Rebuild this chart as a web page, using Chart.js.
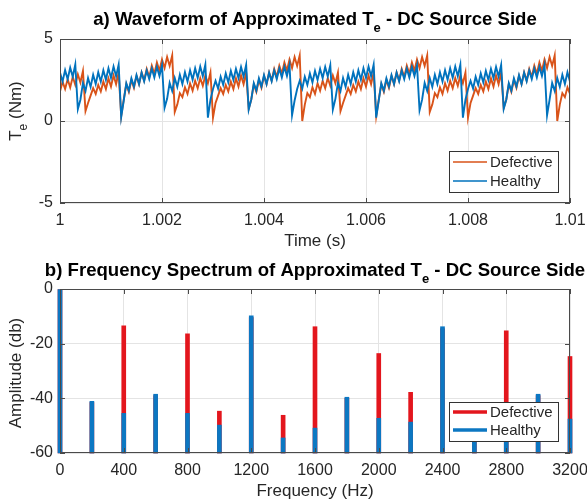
<!DOCTYPE html>
<html>
<head>
<meta charset="utf-8">
<script src="https://cdn.jsdelivr.net/npm/chart.js@4"></script>
<style>
    html, body { margin: 0; padding: 0; background: #fff; }
    canvas { display: block; }
</style>
</head>
<body>
<canvas id="waveChart" width="587" height="252"></canvas>
<canvas id="spectrumChart" width="587" height="252"></canvas>
<script>
// a) approximated Te, one sample every 0.05 ms from t = 1 s (read off the plot)
const sampleStart = 1
const sampleStep = 0.00005

const healthyTorque = [
    2.95, 2.4, 3.1, 2.55, 3.25, 2.7, 3.45,
    0.73, 1.3, 2.32, 1.83, 2.62, 2.08, 2.82, 2.26, 2.97, 2.40, 3.10, 2.52, 3.22, 2.63, 3.32, 2.73, 3.44,
    0.25, 1.25, 2.3, 1.85, 2.6, 2.1, 2.8, 2.25, 2.95, 2.42, 3.08, 2.55, 3.2, 2.65, 3.3, 2.75, 3.4,
    0.8, 1.35, 2.32, 1.83, 2.62, 2.08, 2.82, 2.26, 2.97, 2.40, 3.10, 2.52, 3.22, 2.63, 3.32, 2.73, 3.44,
    0.2, 1.3, 1.95, 2.45, 1.98, 2.7, 2.2, 2.9, 2.35, 3.05, 2.5, 3.18, 2.62, 3.3, 2.72, 3.42,
    0.7, 1.3, 2.3, 1.85, 2.6, 2.1, 2.8, 2.25, 2.95, 2.42, 3.08, 2.55, 3.2, 2.65, 3.3, 2.75, 3.42,
    0.35, 1.25, 1.95, 2.45, 1.98, 2.7, 2.2, 2.9, 2.35, 3.05, 2.5, 3.18, 2.62, 3.3, 2.72, 3.4,
    0.7, 1.35, 2.32, 1.83, 2.62, 2.08, 2.82, 2.26, 2.97, 2.40, 3.10, 2.52, 3.22, 2.63, 3.32, 2.73, 3.44,
    0.2, 1.25, 2.3, 1.85, 2.6, 2.1, 2.8, 2.25, 2.95, 2.42, 3.08, 2.55, 3.2, 2.65, 3.3, 2.75, 3.4,
    0.65, 1.3, 2.32, 1.83, 2.62, 2.08, 2.82, 2.26, 2.97, 2.40, 3.10, 2.52, 3.22, 2.63, 3.32, 2.73, 3.44,
    0.2, 1.3, 1.95, 2.45, 1.98, 2.7, 2.2, 2.9, 2.35, 3.05, 2.5, 3.18, 2.62, 3.3, 2.72, 3.42,
    0.75, 1.3, 2.3, 1.85, 2.6, 2.1, 2.8, 2.25, 2.95, 2.42, 3.08, 2.55, 3.2, 2.65, 3.3, 2.75, 3.42,
    0.35, 1.3, 2.32, 1.83, 2.62, 2.08, 2.82, 2.26, 2.97, 2.40
]

const defectiveTorque = [
    1.8, 2.4, 1.95, 2.55, 2.05, 2.7, 2.2, 2.85, 2.35, 3.05,
    0.6, 1.1, 1.55, 2.0, 1.65, 2.2, 1.8, 2.4, 1.95, 2.6, 2.1, 2.78, 2.25, 2.95,
    0.3, 1.3, 2.25, 1.78, 2.5, 2.02, 2.74, 2.25, 2.96, 2.47, 3.18, 2.68, 3.38, 2.88, 3.57, 3.06, 3.75, 3.23, 3.9, 3.36, 4.0,
    0.55, 1.0, 1.7, 1.45, 2.05, 1.65, 2.3, 1.85, 2.45, 2.0, 2.62, 2.15, 2.78, 2.3, 2.95,
    0.2, 1.1, 1.55, 2.0, 1.65, 2.2, 1.8, 2.4, 1.95, 2.6, 2.1, 2.78, 2.25, 2.95,
    0.75, 1.3, 2.25, 1.78, 2.5, 2.02, 2.74, 2.25, 2.96, 2.47, 3.18, 2.68, 3.38, 2.88, 3.57, 3.06, 3.75, 3.23, 3.9, 3.36, 4.0,
    0.0, 1.0, 1.7, 1.45, 2.05, 1.65, 2.3, 1.85, 2.45, 2.0, 2.62, 2.15, 2.78, 2.3, 2.95,
    0.6, 1.1, 1.55, 2.0, 1.65, 2.2, 1.8, 2.4, 1.95, 2.6, 2.1, 2.78, 2.25, 2.95,
    0.3, 1.3, 2.25, 1.78, 2.5, 2.02, 2.74, 2.25, 2.96, 2.47, 3.18, 2.68, 3.38, 2.88, 3.57, 3.06, 3.75, 3.23, 3.9, 3.36, 4.0,
    0.55, 1.0, 1.7, 1.45, 2.05, 1.65, 2.3, 1.85, 2.45, 2.0, 2.62, 2.15, 2.78, 2.3, 2.95,
    0.2, 1.1, 1.55, 2.0, 1.65, 2.2, 1.8, 2.4, 1.95, 2.6, 2.1, 2.78, 2.25, 2.95,
    0.8, 1.3, 2.25, 1.78, 2.5, 2.02, 2.74, 2.25, 2.96, 2.47, 3.18, 2.68, 3.38, 2.88, 3.57, 3.06, 3.75, 3.23, 3.9, 3.36, 4.0,
    0.0, 1.0, 1.7, 1.45, 2.05, 1.65
]

const timeTicks = [1, 1.002, 1.004, 1.006, 1.008, 1.01]
const torqueTicks = [-5, 0, 5]

// b) spectrum
const frequencies = [0, 200, 400, 600, 800, 1000, 1200, 1400, 1600, 1800, 2000, 2200, 2400, 2600, 2800, 3000, 3200]
const healthyDb = [0, -41.1, -45.5, -38.5, -45.5, -49.8, -9.8, -54.5, -50.9, -39.6, -47.3, -48.7, -13.8, -50, -47, -38.5, -47.6]
const defectiveDb = [0, -41.5, -13.5, -39, -16.4, -44.7, -10.5, -46.2, -13.8, -40, -23.6, -37.8, -14.5, -51, -15.3, -39, -24.7]
const freqTicks = [0, 400, 800, 1200, 1600, 2000, 2400, 2800, 3200]
const dbTicks = [-60, -40, -20, 0]
const dbFloor = -60

const FONT = '"Liberation Sans", Arial, sans-serif'
const COLORS = {
    defectiveLine: "#D95319",
    healthyLine: "#0072BD",
    defectiveBar: "#e3161d",
    healthyBar: "#0c77c2",
    box: "#4a4a4a",
    grid: "#e4e4e4",
    text: "#262626"
}

Chart.defaults.font.family = FONT
Chart.defaults.color = COLORS.text

// text with a subscript part, centred on x
function drawRichText(ctx, parts, x, y, size, weight) {
    const mainFont = `${weight} ${size}px ${FONT}`
    const subFont = `${weight} ${Math.round(size * 0.7)}px ${FONT}`
    let total = 0
    parts.forEach(([txt, isSub]) => {
        ctx.font = isSub ? subFont : mainFont
        total += ctx.measureText(txt).width
    })
    let cx = x - total / 2
    ctx.textAlign = "left"
    ctx.textBaseline = "alphabetic"
    parts.forEach(([txt, isSub]) => {
        ctx.font = isSub ? subFont : mainFont
        ctx.fillText(txt, cx, isSub ? y + size * 0.38 : y)
        cx += ctx.measureText(txt).width
    })
}

function decorPlugin(cfg) {
    return {
        id: "decor",
        afterDraw(chart) {
            const ctx = chart.ctx
            const area = chart.chartArea
            const xs = chart.scales.x
            const ys = chart.scales.y
            ctx.save()

            // axes box + inward ticks on all four sides
            ctx.strokeStyle = COLORS.box
            ctx.lineWidth = 1
            ctx.strokeRect(area.left + 0.5, area.top + 0.5, area.right - area.left - 1, area.bottom - area.top - 1)
            ctx.beginPath()
            xs.ticks.forEach(t => {
                const px = Math.round(xs.getPixelForValue(t.value)) + 0.5
                ctx.moveTo(px, area.bottom); ctx.lineTo(px, area.bottom - 5)
                ctx.moveTo(px, area.top); ctx.lineTo(px, area.top + 5)
            })
            ys.ticks.forEach(t => {
                const py = Math.round(ys.getPixelForValue(t.value)) + 0.5
                ctx.moveTo(area.left, py); ctx.lineTo(area.left + 5, py)
                ctx.moveTo(area.right, py); ctx.lineTo(area.right - 5, py)
            })
            ctx.stroke()

            ctx.fillStyle = "#000"
            const mid = (area.left + area.right) / 2
            drawRichText(ctx, cfg.title, mid, cfg.titleY, 18.6, "bold")

            ctx.fillStyle = COLORS.text
            drawRichText(ctx, cfg.xLabel, mid, cfg.xLabelY, 17, "normal")

            ctx.save()
            ctx.translate(cfg.yLabelX, cfg.yLabelY)
            ctx.rotate(-Math.PI / 2)
            drawRichText(ctx, cfg.yLabel, 0, 0, 17, "normal")
            ctx.restore()

            // legend box inside the axes
            const lg = cfg.legend
            ctx.fillStyle = "#fff"
            ctx.fillRect(lg.x, lg.y, lg.w, lg.h)
            ctx.strokeStyle = "#333"
            ctx.lineWidth = 1
            ctx.strokeRect(lg.x + 0.5, lg.y + 0.5, lg.w, lg.h)
            chart.data.datasets.forEach((ds, i) => {
                const ly = lg.rows[i]
                ctx.strokeStyle = ds.legendColor
                ctx.lineWidth = lg.lineWidth
                ctx.beginPath()
                ctx.moveTo(lg.x + 4, ly)
                ctx.lineTo(lg.x + 38, ly)
                ctx.stroke()
                ctx.fillStyle = COLORS.text
                ctx.font = `15px ${FONT}`
                ctx.textAlign = "left"
                ctx.textBaseline = "middle"
                ctx.fillText(ds.label, lg.x + 41, ly + 1)
            })
            ctx.restore()
        }
    }
}

function fixedAxes(xHeight) {
    return {
        x: (scale) => { scale.height = xHeight; scale.paddingLeft = 0; scale.paddingRight = 0 },
        y: (scale) => { scale.width = 60; scale.paddingTop = 0; scale.paddingBottom = 0 }
    }
}

function drawWaveChart() {
    const ctx = document.getElementById("waveChart").getContext("2d")
    const times = healthyTorque.map((v, i) => sampleStart + i * sampleStep)
    const fit = fixedAxes(49)

    new Chart(ctx, {
        type: "line",
        data: {
            datasets: [{
                label: "Defective",
                data: defectiveTorque.map((v, i) => ({ x: times[i], y: v })),
                borderColor: COLORS.defectiveLine,
                legendColor: COLORS.defectiveLine,
                borderWidth: 1.9,
                pointRadius: 0,
                order: 1
            }, {
                label: "Healthy",
                data: healthyTorque.map((v, i) => ({ x: times[i], y: v })),
                borderColor: COLORS.healthyLine,
                legendColor: COLORS.healthyLine,
                borderWidth: 1.9,
                pointRadius: 0,
                order: 0
            }]
        },
        options: {
            responsive: false,
            animation: false,
            devicePixelRatio: 1,
            events: [],
            layout: { padding: { top: 39, right: 17, left: 0, bottom: 0 } },
            plugins: { legend: { display: false }, tooltip: { enabled: false } },
            scales: {
                x: {
                    type: "linear",
                    min: timeTicks[0],
                    max: timeTicks[timeTicks.length - 1],
                    afterBuildTicks: s => { s.ticks = timeTicks.map(v => ({ value: v })) },
                    afterFit: fit.x,
                    grid: { color: COLORS.grid, drawTicks: false },
                    border: { display: false },
                    ticks: { padding: 8, font: { size: 16 }, maxRotation: 0, autoSkip: false, callback: v => String(v) }
                },
                y: {
                    min: torqueTicks[0],
                    max: torqueTicks[torqueTicks.length - 1],
                    afterBuildTicks: s => { s.ticks = torqueTicks.map(v => ({ value: v })) },
                    afterFit: fit.y,
                    grid: { color: COLORS.grid, drawTicks: false },
                    border: { display: false },
                    ticks: { padding: 7, font: { size: 16 }, callback: v => String(v) }
                }
            }
        },
        plugins: [decorPlugin({
            title: [["a) Waveform of Approximated T", false], ["e", true], [" - DC Source Side", false]],
            titleY: 25,
            xLabel: [["Time (s)", false]],
            xLabelY: 246,
            yLabel: [["T", false], ["e", true], [" (Nm)", false]],
            yLabelX: 21,
            yLabelY: 111,
            legend: { x: 449, y: 151, w: 109, h: 41, rows: [162, 181], lineWidth: 1.6 }
        })]
    })
}

function drawSpectrumChart() {
    const ctx = document.getElementById("spectrumChart").getContext("2d")
    const fit = fixedAxes(51)

    new Chart(ctx, {
        type: "bar",
        data: {
            datasets: [{
                label: "Defective",
                data: frequencies.map((f, i) => ({ x: f, y: [dbFloor, defectiveDb[i]] })),
                backgroundColor: COLORS.defectiveBar,
                legendColor: COLORS.defectiveBar,
                order: 1
            }, {
                label: "Healthy",
                data: frequencies.map((f, i) => ({ x: f, y: [dbFloor, healthyDb[i]] })),
                backgroundColor: COLORS.healthyBar,
                legendColor: COLORS.healthyBar,
                order: 0
            }]
        },
        options: {
            responsive: false,
            animation: false,
            devicePixelRatio: 1,
            events: [],
            grouped: false,
            barThickness: 4,
            clip: false,
            borderWidth: 0,
            layout: { padding: { top: 37, right: 17, left: 0, bottom: 0 } },
            plugins: { legend: { display: false }, tooltip: { enabled: false } },
            scales: {
                x: {
                    type: "linear",
                    offset: false,
                    min: freqTicks[0],
                    max: freqTicks[freqTicks.length - 1],
                    afterBuildTicks: s => { s.ticks = freqTicks.map(v => ({ value: v })) },
                    afterFit: fit.x,
                    grid: { color: COLORS.grid, drawTicks: false, offset: false },
                    border: { display: false },
                    ticks: { padding: 8, font: { size: 16 }, maxRotation: 0, autoSkip: false, callback: v => String(v) }
                },
                y: {
                    min: dbTicks[0],
                    max: dbTicks[dbTicks.length - 1],
                    afterBuildTicks: s => { s.ticks = dbTicks.map(v => ({ value: v })) },
                    afterFit: fit.y,
                    grid: { color: COLORS.grid, drawTicks: false },
                    border: { display: false },
                    ticks: { padding: 7, font: { size: 16 }, callback: v => String(v) }
                }
            }
        },
        plugins: [decorPlugin({
            title: [["b) Frequency Spectrum of Approximated T", false], ["e", true], [" - DC Source Side", false]],
            titleY: 24,
            xLabel: [["Frequency (Hz)", false]],
            xLabelY: 244,
            yLabel: [["Amplitude (db)", false]],
            yLabelX: 21,
            yLabelY: 121,
            legend: { x: 449, y: 150, w: 109, h: 39, rows: [160, 178], lineWidth: 3.5 }
        })]
    })
}

drawWaveChart()
drawSpectrumChart()
</script>
</body>
</html>
